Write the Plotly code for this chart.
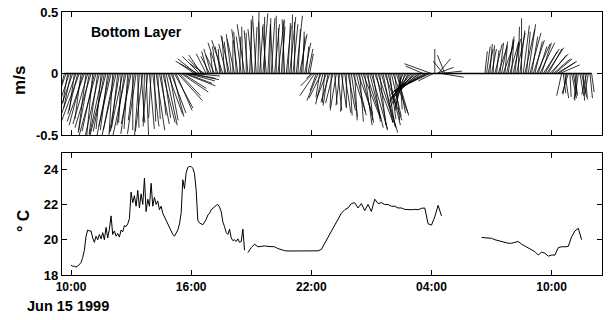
import plotly.graph_objects as go
from datetime import datetime, timedelta

# ---------------- data ----------------
# Bottom-layer velocity sticks, every 5 min from 1999-06-15 09:40
stick_start = datetime(1999, 6, 15, 9, 40)
stick_step_min = 5
v_ms = [
    -0.20, -0.26, -0.24, -0.30,
    -0.28, -0.34, -0.30, -0.36, -0.33, -0.40, -0.37, -0.42, -0.39, -0.46, -0.41, -0.48,   # 10
    -0.44, -0.52, -0.47, -0.55, -0.49, -0.53, -0.45, -0.51, -0.47, -0.54, -0.46, -0.50,   # 11
    -0.43, -0.50, -0.46, -0.53, -0.44, -0.48, -0.40, -0.47, -0.42, -0.52, -0.45, -0.49,   # 12
    -0.41, -0.46, -0.38, -0.49, -0.44, -0.51, -0.40, -0.47, -0.43, -0.50, -0.39, -0.45,   # 13
    -0.36, -0.43, -0.39, -0.46, -0.37, -0.41, -0.34, -0.40, -0.36, -0.42, -0.33, -0.38,   # 14
    -0.32, -0.35, -0.28, -0.30, -0.22, -0.18, -0.15, -0.12, -0.10, -0.08, -0.06, -0.05,   # 15
    -0.04, -0.02, 0.08, 0.12, 0.10, 0.14, 0.15, 0.12, 0.08, 0.16, 0.18, 0.14,             # 16
    0.20, 0.17, 0.15, 0.22, 0.25, 0.20, 0.22, 0.27, 0.30, 0.24, 0.26, 0.31,               # 17
    0.32, 0.27, 0.28, 0.34, 0.36, 0.30, 0.30, 0.38, 0.40, 0.33, 0.35, 0.42,               # 18
    0.44, 0.36, 0.38, 0.47, 0.57, 0.40, 0.42, 0.49, 0.46, 0.38, 0.40, 0.45,               # 19
    0.45, 0.39, 0.40, 0.47, 0.43, 0.37, 0.38, 0.44, 0.44, 0.39, 0.41, 0.46,               # 20
    0.48, 0.40, 0.42, 0.47, 0.36, 0.32, 0.30, 0.34, 0.25, 0.22, 0.20, 0.16,               # 21
    -0.04, -0.10, -0.18, -0.14, -0.22, -0.19, -0.20, -0.25, -0.24, -0.21, -0.26, -0.23,   # 22
    -0.28, -0.24, -0.25, -0.30, -0.30, -0.26, -0.27, -0.31, -0.32, -0.28, -0.30, -0.34,   # 23
    -0.35, -0.31, -0.38, -0.34, -0.33, -0.39, -0.40, -0.36, -0.42, -0.37, -0.38, -0.44,   # 00
    -0.45, -0.39, -0.40, -0.46, -0.48, -0.42, -0.44, -0.40, -0.38, -0.43, -0.42, -0.37,   # 01
    -0.35, -0.32, -0.38, -0.34, -0.32, -0.29, -0.30, -0.27, -0.28, -0.25, -0.25, -0.22,   # 02
    -0.22, -0.19, -0.20, -0.18, -0.18, -0.16, -0.15, 0.06, -0.14, -0.12, -0.12, -0.10,    # 03
    0.08, -0.06, 0.20, 0.05, 0.12, 0.02, -0.03, 0.10, 0.15, 0.00, 0.00, 0.00,             # 04
    0.00, 0.00, 0.00, 0.00, 0.00, 0.00, 0.00, 0.00, 0.00, 0.00, 0.00, 0.00,               # 05
    0.00, 0.00, 0.00, 0.00, 0.00, 0.00, 0.00, 0.00, 0.18, 0.22, 0.20, 0.24,               # 06
    0.20, 0.23, 0.24, 0.19, 0.21, 0.25, 0.26, 0.22, 0.23, 0.27, 0.28, 0.25,               # 07
    0.30, 0.28, 0.26, 0.33, 0.38, 0.35, 0.45, 0.39, 0.36, 0.34, 0.40, 0.33,               # 08
    0.30, 0.27, 0.26, 0.24, 0.22, 0.25, 0.25, 0.20, 0.18, 0.21, 0.20, 0.16,               # 09
    0.15, 0.12, 0.12, 0.09, 0.10, 0.07, -0.18, -0.16, -0.20, -0.17, -0.16, -0.19,         # 10
    -0.20, -0.17, -0.18, -0.21, -0.22, -0.18, -0.19, -0.22, -0.21, -0.17, -0.17, -0.20,   # 11
    -0.15,
]
u_ms = [
    -0.05, -0.09, -0.04, -0.10,
    -0.06, -0.12, -0.04, -0.13, -0.08, -0.15, -0.05, -0.11, -0.14, -0.06, -0.12, -0.09,   # 10
    -0.13, -0.05, -0.10, -0.15, -0.07, -0.12, -0.04, -0.11, -0.09, -0.14, -0.06, -0.10,   # 11
    -0.10, -0.03, -0.09, -0.12, -0.05, -0.08, -0.02, -0.10, -0.06, -0.11, -0.03, -0.07,   # 12
    -0.08, 0.00, -0.05, -0.07, 0.01, -0.04, 0.03, -0.06, -0.01, 0.02, -0.04, 0.04,        # 13
    -0.02, 0.05, 0.01, 0.07, 0.02, 0.08, 0.04, 0.10, 0.05, 0.09, 0.12, 0.07,              # 14
    0.12, 0.09, 0.15, 0.13, 0.20, 0.17, 0.22, 0.19, 0.25, 0.21, 0.22, 0.24,               # 15
    0.20, 0.22, -0.12, -0.15, -0.18, -0.14, -0.10, -0.12, -0.12, -0.08, -0.05, -0.07,     # 16
    -0.06, -0.02, -0.07, -0.03, -0.08, -0.01, -0.05, -0.09, -0.02, -0.06, -0.03, -0.07,   # 17
    -0.04, 0.00, -0.06, -0.02, -0.05, 0.01, -0.04, -0.01, -0.06, 0.00, -0.03, 0.02,       # 18
    0.00, -0.04, 0.02, -0.03, 0.01, 0.03, -0.02, 0.04, 0.00, -0.03, 0.02, 0.01,           # 19
    0.03, -0.02, 0.04, 0.00, 0.05, -0.01, 0.03, 0.01, -0.02, 0.04, 0.02, 0.05,            # 20
    0.01, 0.04, 0.00, 0.05, 0.02, 0.06, 0.03, 0.01, 0.05, 0.02, 0.04, 0.03,               # 21
    -0.04, -0.10, -0.12, -0.05, -0.09, -0.03, -0.10, -0.06, -0.02, -0.08, -0.04, -0.07,   # 22
    -0.01, -0.06, 0.02, -0.05, 0.03, -0.03, 0.04, -0.02, 0.05, 0.00, 0.06, 0.02,          # 23
    0.05, 0.10, 0.02, 0.08, 0.12, 0.03, 0.10, 0.14, 0.06, 0.12, 0.04, 0.11,               # 00
    0.13, 0.06, 0.15, 0.09, 0.16, 0.05, 0.12, 0.08, 0.14, 0.07, 0.10, 0.05,               # 01
    0.08, 0.12, 0.04, 0.10, 0.06, 0.02, -0.05, -0.10, -0.08, -0.14, -0.12, -0.16,         # 02
    -0.18, -0.15, -0.20, -0.22, -0.19, -0.23, -0.20, -0.14, -0.25, -0.22, -0.24, -0.21,   # 03
    -0.22, -0.12, 0.00, 0.14, 0.10, 0.18, 0.18, -0.08, -0.06, 0.00, 0.00, 0.00,           # 04
    0.00, 0.00, 0.00, 0.00, 0.00, 0.00, 0.00, 0.00, 0.00, 0.00, 0.00, 0.00,               # 05
    0.00, 0.00, 0.00, 0.00, 0.00, 0.00, 0.00, 0.00, 0.02, 0.03, 0.04, 0.02,               # 06
    0.04, 0.01, 0.06, 0.02, 0.07, 0.03, 0.05, 0.08, 0.02, 0.06, 0.04, 0.07,               # 07
    0.02, 0.06, 0.03, 0.07, 0.01, 0.04, 0.00, 0.05, 0.08, 0.03, 0.06, 0.09,               # 08
    0.05, 0.09, 0.06, 0.11, 0.07, 0.12, 0.08, 0.13, 0.10, 0.14, 0.11, 0.15,               # 09
    0.12, 0.14, 0.14, 0.15, 0.15, 0.16, -0.04, 0.02, 0.03, -0.03, -0.05, 0.01,            # 10
    0.04, 0.03, 0.02, -0.02, -0.03, 0.03, 0.04, 0.01, 0.02, -0.04, -0.03, 0.02,           # 11
    0.02,
]

# Temperature segments (deg C)
temp1_start = datetime(1999, 6, 15, 10, 0)
temp1_step_min = 5
temp1 = [
    18.55, 18.5, 18.5, 18.45, 18.5, 18.6, 18.7, 19.0, 19.4, 20.2, 20.55, 20.5,
    20.5, 20.1, 19.85, 20.2, 20.0, 20.3, 20.05, 20.4, 20.0, 20.7, 20.1, 20.6,
    21.35, 20.3, 20.5, 20.2, 20.35, 20.15, 20.55, 20.45, 20.8, 20.75, 20.9, 21.2,
    22.7, 22.1, 22.5, 21.9, 22.8, 21.8, 22.6, 22.0, 23.5, 21.6, 22.3, 21.9,
    23.2, 21.9, 22.4, 22.0, 22.2, 21.7, 21.9, 21.5, 21.3, 21.1, 20.9, 20.7,
    20.45, 20.3, 20.2, 20.35, 20.55, 20.9, 21.5, 23.4, 22.9, 23.8, 24.1, 24.15,
    24.15, 24.05, 23.75, 22.8, 21.1, 20.95, 20.9, 20.85, 21.0, 21.15, 21.4, 21.5,
    21.7, 21.8, 21.9, 21.95, 22.0, 21.85, 21.6, 21.0, 20.75, 20.4, 20.3, 20.6,
    20.1, 19.95, 20.0, 19.9, 20.05, 19.85, 19.9, 20.6, 19.4,
]
temp2_start = datetime(1999, 6, 15, 18, 50)
temp2_step_min = 10
temp2 = [
    19.27,
    19.55, 19.75, 19.6, 19.62, 19.65, 19.62,
    19.62, 19.6, 19.5, 19.42, 19.38, 19.36,
    19.36, 19.35, 19.36, 19.38, 19.35, 19.36,
    19.36, 19.36, 19.37, 19.45, 19.8, 20.15,
    20.45, 20.8, 21.2, 21.5, 21.7, 21.8,
    22.05, 22.1, 21.8, 22.05, 21.65, 22.0,
    21.6, 22.3, 22.05, 22.1, 22.0, 22.0,
    21.9, 21.9, 21.8, 21.8, 21.72, 21.7,
    21.7, 21.72, 21.7, 21.78, 21.8, 20.9,
    20.83, 21.3, 21.95, 21.35,
]
temp3_start = datetime(1999, 6, 16, 6, 30)
temp3_step_min = 10
temp3 = [
    20.13, 20.12, 20.12,
    20.08, 20.0, 19.95, 19.9, 19.83, 19.8,
    19.8, 19.85, 19.9, 19.75, 19.65, 19.55,
    19.45, 19.32, 19.13, 19.3, 19.23, 19.07,
    19.13, 19.13, 19.55, 19.6, 19.6, 19.62,
    20.17, 20.5, 20.65, 20.0,
]

tick_times = [datetime(1999, 6, 15, 10), datetime(1999, 6, 15, 16), datetime(1999, 6, 15, 22),
              datetime(1999, 6, 16, 4), datetime(1999, 6, 16, 10)]
tick_text = ["10:00", "16:00", "22:00", "04:00", "10:00"]
vel_ticks = [-0.5, 0, 0.5]
vel_tick_text = ["-0.5", "0", "0.5"]
temp_ticks = [18, 20, 22, 24]

assert len(u_ms) == len(v_ms)

# ---------------- build ----------------
HOURS_PER_MS = 6.15  # horizontal stick scale (keeps true angles)
t_stick = [stick_start + timedelta(minutes=stick_step_min * i) for i in range(len(v_ms))]
sx, sy = [], []
for t, uu, vv in zip(t_stick, u_ms, v_ms):
    sx += [t, t + timedelta(hours=HOURS_PER_MS * uu), None]
    sy += [0, vv, None]

tx, ty = [], []
for start, step, vals in [(temp1_start, temp1_step_min, temp1),
                          (temp2_start, temp2_step_min, temp2),
                          (temp3_start, temp3_step_min, temp3)]:
    tx += [start + timedelta(minutes=step * i) for i in range(len(vals))] + [None]
    ty += list(vals) + [None]

FONT = "Liberation Sans, Arial, Helvetica, sans-serif"

fig = go.Figure()
fig.add_trace(go.Scatter(x=[t_stick[0], t_stick[-1]], y=[0, 0], mode="lines",
                         line=dict(color="black", width=1.6), xaxis="x2", yaxis="y2",
                         hoverinfo="skip"))
fig.add_trace(go.Scatter(x=sx, y=sy, mode="lines", line=dict(color="black", width=0.8),
                         xaxis="x2", yaxis="y2", connectgaps=False))
fig.add_trace(go.Scatter(x=tx, y=ty, mode="lines", line=dict(color="black", width=1),
                         xaxis="x", yaxis="y", connectgaps=False))

xrange = [datetime(1999, 6, 15, 9, 33), datetime(1999, 6, 16, 12, 31)]
common_x = dict(type="date", range=xrange, tickvals=tick_times, ticktext=tick_text,
                ticks="inside", ticklen=5, tickcolor="black", showline=True,
                linecolor="black", linewidth=1.2, mirror="ticks", showgrid=False,
                zeroline=False)
common_y = dict(ticks="inside", ticklen=5, tickcolor="black", showline=True,
                linecolor="black", linewidth=1.2, mirror="ticks", showgrid=False,
                zeroline=False, tickfont=dict(family=FONT, size=13, color="black", weight="bold"))

fig.update_layout(
    width=608, height=320,
    margin=dict(l=62, r=6, t=12, b=45),
    paper_bgcolor="white", plot_bgcolor="white",
    showlegend=False,
    font=dict(family=FONT, color="black"),
    xaxis=dict(**common_x, anchor="y", showticklabels=True,
               tickfont=dict(family=FONT, size=12, color="black", weight="bold")),
    xaxis2=dict(**common_x, anchor="y2", showticklabels=False),
    yaxis=dict(**common_y, domain=[0, 0.4627], range=[18, 24.9], tickvals=temp_ticks),
    yaxis2=dict(**common_y, domain=[0.532, 1], range=[-0.5, 0.5], tickvals=vel_ticks,
                ticktext=vel_tick_text),
    annotations=[
        dict(text="Bottom Layer", xref="paper", yref="paper", x=0.05, y=0.924,
             xanchor="left", yanchor="middle", showarrow=False,
             font=dict(family=FONT, size=14, color="black", weight="bold")),
        dict(text="m/s", xref="paper", yref="paper", x=(20 - 62) / 540, y=0.738,
             xanchor="center", yanchor="middle", textangle=-90, showarrow=False,
             font=dict(family=FONT, size=17, color="black", weight="bold")),
        dict(text="° C", xref="paper", yref="paper", x=(23 - 62) / 540, y=0.205,
             xanchor="center", yanchor="middle", textangle=-90, showarrow=False,
             font=dict(family=FONT, size=16, color="black", weight="bold")),
        dict(text="Jun 15 1999", xref="paper", yref="paper", x=(68 - 62) / 540, y=-0.118,
             xanchor="center", yanchor="middle", showarrow=False,
             font=dict(family=FONT, size=14.5, color="black", weight="bold")),
    ],
)

fig.write_html("out.html")
